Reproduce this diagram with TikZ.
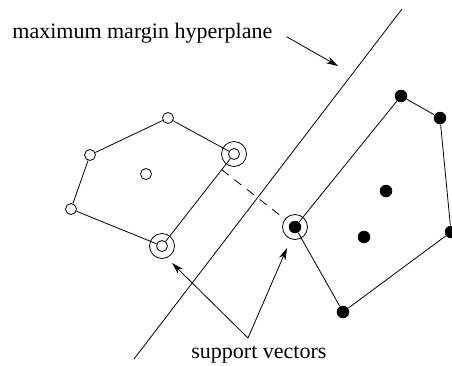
\documentclass[tikz,border=0pt]{standalone}
\usepackage{fontspec}
\setmainfont{Liberation Serif}
\usetikzlibrary{arrows.meta,calc}
\begin{document}
\begin{tikzpicture}[x=1pt,y=-1pt,line width=0.8pt]
  \tikzstyle{open}=[circle,draw,inner sep=0pt,minimum size=11pt]
  \tikzstyle{full}=[circle,fill,inner sep=0pt,minimum size=12.5pt]
  \tikzstyle{ring}=[circle,draw,inner sep=0pt,minimum size=25pt]
  \tikzstyle{pointer}=[-{Stealth[length=12pt,width=7pt]}]
  \tikzstyle{label}=[font=\fontsize{22}{26}\selectfont,inner sep=0pt,anchor=base west]
  \useasboundingbox (0,0) rectangle (452,365);

  \node[open] (a) at (168,118) {};
  \node[open] (b) at (90,155) {};
  \node[open] (c) at (71,209) {};
  \node[open] (d) at (162,246) {};
  \node[open] (e) at (234,154) {};
  \node[open] (inner) at (146,174) {};
  \node[ring] (dring) at (d) {};
  \node[ring] (ering) at (e) {};

  \node[full] (f) at (295,227) {};
  \node[full] (g) at (401,96) {};
  \node[full] (h) at (440,118) {};
  \node[full] (i) at (451,232) {};
  \node[full] (j) at (343,312) {};
  \node[full] (k) at (386,191) {};
  \node[full] (l) at (364,237) {};
  \node[ring] (fring) at (f) {};

  \draw (a) -- (b) -- (c) -- (d) -- (e) -- (a);
  \draw (f) -- (g) -- (h) -- (i) -- (j) -- (f);

  \coordinate (foot) at ($(d)!(f)!(e)$);
  \draw[dashed,dash pattern=on 9pt off 7pt] (foot) -- (fring);

  \coordinate (htop) at (402,9);
  \coordinate (hbot) at (134,359);
  \draw (htop) -- (hbot);

  \node[label] (hlabel) at (12,38) {maximum margin hyperplane};
  \coordinate (htip) at (338,66);
  \draw[pointer] ([xshift=14pt,yshift=-4pt]hlabel.east) -- (htip);

  \node[label] (slabel) at (191,358) {support vectors};
  \coordinate (fork) at (248,338);
  \coordinate (dtip) at (172,263);
  \coordinate (ftip) at (287,248);
  \draw[pointer] (fork) -- (dtip);
  \draw[pointer] (fork) -- (ftip);
\end{tikzpicture}
\end{document}
